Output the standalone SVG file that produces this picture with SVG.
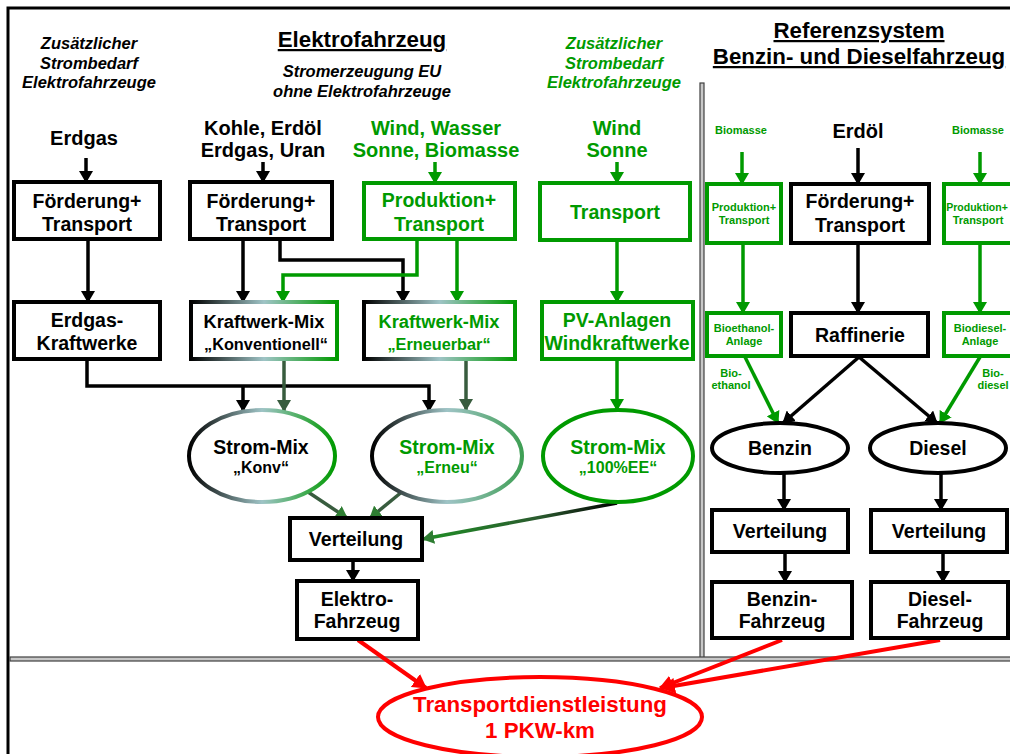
<svg xmlns="http://www.w3.org/2000/svg" width="1010" height="754" viewBox="0 0 1010 754">
<defs>
<style>
text{font-family:"Liberation Sans",Arial,sans-serif;font-weight:bold;text-anchor:middle}
.t19{font-size:19.5px}
.t20{font-size:20px}
.t16{font-size:16px}
.t11{font-size:11px}
.it{font-size:16.5px;font-style:italic}
.ttl{font-size:22.3px;text-decoration:underline}
.g{fill:#009a00}
.k{fill:#000}
.r{fill:#ff0000}
.bx{fill:#fff;stroke:#000;stroke-width:4}
.gbx{fill:#fff;stroke:#009a00;stroke-width:4}
.ck{fill:none;stroke:#000;stroke-width:3.5}
.cg{fill:none;stroke:#009a00;stroke-width:3.5}
.cd{fill:none;stroke:#385c3e;stroke-width:3.5}
.cr{fill:none;stroke:#ff0000;stroke-width:4}
</style>
<marker id="ak" markerUnits="userSpaceOnUse" markerWidth="14" markerHeight="14" refX="11" refY="7" orient="auto"><path d="M0,0 L12,7 L0,14 z" fill="#000"/></marker>
<marker id="ag" markerUnits="userSpaceOnUse" markerWidth="14" markerHeight="14" refX="11" refY="7" orient="auto"><path d="M0,0 L12,7 L0,14 z" fill="#009a00"/></marker>
<marker id="ad" markerUnits="userSpaceOnUse" markerWidth="14" markerHeight="14" refX="11" refY="7" orient="auto"><path d="M0,0 L12,7 L0,14 z" fill="#385c3e"/></marker>
<marker id="adg" markerUnits="userSpaceOnUse" markerWidth="14" markerHeight="14" refX="11" refY="7" orient="auto"><path d="M0,0 L12,7 L0,14 z" fill="#2e7d32"/></marker>
<marker id="ar" markerUnits="userSpaceOnUse" markerWidth="16" markerHeight="16" refX="13" refY="8" orient="auto"><path d="M0,0 L14,8 L0,16 z" fill="#ff0000"/></marker>
<linearGradient id="gmix" x1="0" y1="0" x2="1" y2="0">
<stop offset="0" stop-color="#000"/><stop offset="0.5" stop-color="#9fc4c6"/><stop offset="1" stop-color="#009a00"/>
</linearGradient>
<linearGradient id="gmix2" x1="0" y1="0" x2="1" y2="0">
<stop offset="0" stop-color="#000"/><stop offset="0.5" stop-color="#9fc4c6"/><stop offset="1" stop-color="#3f9f55"/>
</linearGradient>
<linearGradient id="gee" x1="0" y1="0" x2="1" y2="0">
<stop offset="0" stop-color="#1f8f25"/><stop offset="0.6" stop-color="#2a5a2e"/><stop offset="1" stop-color="#000"/>
</linearGradient>
</defs>

<!-- frame and separators -->
<g id="frame">
<rect x="8" y="8" width="1010" height="760" fill="#fff" stroke="#000" stroke-width="3"/>
<rect x="700" y="83" width="4" height="577" fill="#c8c8c8" stroke="#404040" stroke-width="1.2"/>
<rect x="10" y="657" width="1010" height="4" fill="#c8c8c8" stroke="#404040" stroke-width="1.2"/>
</g>

<!-- headings -->
<g id="headings">
<text class="it k" x="89" y="49">Zusätzlicher</text>
<text class="it k" x="89" y="69">Strombedarf</text>
<text class="it k" x="89" y="88">Elektrofahrzeuge</text>
<text class="ttl k" x="362" y="47">Elektrofahrzeug</text>
<text class="it k" x="362" y="77">Stromerzeugung EU</text>
<text class="it k" x="362" y="97">ohne Elektrofahrzeuge</text>
<text class="it g" x="614" y="49">Zusätzlicher</text>
<text class="it g" x="614" y="69">Strombedarf</text>
<text class="it g" x="614" y="88">Elektrofahrzeuge</text>
<text class="ttl k" x="859" y="38">Referenzsystem</text>
<text class="ttl k" x="859" y="64">Benzin- und Dieselfahrzeug</text>
</g>

<!-- source labels -->
<g id="sources">
<text class="t20 k" x="84" y="145">Erdgas</text>
<text class="t20 k" x="263" y="135">Kohle, Erdöl</text>
<text class="t20 k" x="263" y="157">Erdgas, Uran</text>
<text class="t20 g" x="436" y="135">Wind, Wasser</text>
<text class="t20 g" x="436" y="157">Sonne, Biomasse</text>
<text class="t20 g" x="617" y="135">Wind</text>
<text class="t20 g" x="617" y="157">Sonne</text>
<text class="t11 g" x="741" y="134">Biomasse</text>
<text class="t20 k" x="858" y="138">Erdöl</text>
<text class="t11 g" x="978" y="134">Biomasse</text>
<text class="t11 g" x="731" y="377">Bio-</text>
<text class="t11 g" x="731" y="389">ethanol</text>
<text class="t11 g" x="993" y="377">Bio-</text>
<text class="t11 g" x="993" y="389">diesel</text>
</g>

<!-- connectors -->
<g id="connectors">
<line class="ck" x1="86" y1="158" x2="86" y2="182" marker-end="url(#ak)"/>
<line class="ck" x1="263" y1="162" x2="263" y2="182" marker-end="url(#ak)"/>
<line class="cg" x1="435" y1="162" x2="435" y2="183" marker-end="url(#ag)"/>
<line class="cg" x1="617" y1="162" x2="617" y2="183" marker-end="url(#ag)"/>
<line class="ck" x1="88" y1="239" x2="88" y2="302" marker-end="url(#ak)"/>
<line class="ck" x1="243" y1="239" x2="243" y2="302" marker-end="url(#ak)"/>
<polyline class="ck" points="280,239 280,260 403,260 403,302" marker-end="url(#ak)"/>
<polyline class="cg" points="417,239 417,275 283,275 283,302" marker-end="url(#ag)"/>
<line class="cg" x1="457" y1="239" x2="457" y2="302" marker-end="url(#ag)"/>
<line class="cg" x1="617" y1="240" x2="617" y2="302" marker-end="url(#ag)"/>
<polyline class="ck" points="87,359 87,386 429,386 429,411" marker-end="url(#ak)"/>
<line class="ck" x1="243" y1="386" x2="243" y2="411" marker-end="url(#ak)"/>
<line class="cd" x1="284" y1="359" x2="284" y2="411" marker-end="url(#ad)"/>
<line class="cd" x1="466" y1="359" x2="466" y2="410" marker-end="url(#ad)"/>
<line class="cg" x1="617" y1="359" x2="617" y2="410" marker-end="url(#ag)"/>
<line class="cd" x1="305" y1="490" x2="347" y2="518" marker-end="url(#adg)"/>
<line class="cd" x1="403" y1="491" x2="370" y2="518" marker-end="url(#adg)"/>
<line x1="617" y1="503" x2="423" y2="539" fill="none" stroke="url(#gee)" stroke-width="3.5" marker-end="url(#adg)"/>
<line class="ck" x1="353" y1="560" x2="353" y2="581" marker-end="url(#ak)"/>
<line class="cr" x1="358" y1="640" x2="426" y2="688" marker-end="url(#ar)"/>
<line class="cr" x1="782" y1="640" x2="660" y2="688" marker-end="url(#ar)"/>
<line class="cr" x1="940" y1="640" x2="662" y2="688" marker-end="url(#ar)"/>
<line class="cg" x1="742" y1="152" x2="742" y2="184" marker-end="url(#ag)"/>
<line class="ck" x1="858" y1="148" x2="858" y2="184" marker-end="url(#ak)"/>
<line class="cg" x1="980" y1="152" x2="980" y2="184" marker-end="url(#ag)"/>
<line class="cg" x1="743" y1="243" x2="743" y2="313" marker-end="url(#ag)"/>
<line class="ck" x1="858" y1="243" x2="858" y2="313" marker-end="url(#ak)"/>
<line class="cg" x1="980" y1="243" x2="980" y2="313" marker-end="url(#ag)"/>
<line class="cg" x1="745" y1="357" x2="778" y2="423" marker-end="url(#ag)"/>
<line class="ck" x1="859" y1="357" x2="783" y2="423" marker-end="url(#ak)"/>
<line class="ck" x1="859" y1="357" x2="937" y2="423" marker-end="url(#ak)"/>
<line class="cg" x1="980" y1="357" x2="940" y2="423" marker-end="url(#ag)"/>
<line class="ck" x1="784" y1="473" x2="784" y2="510" marker-end="url(#ak)"/>
<line class="ck" x1="941" y1="473" x2="941" y2="510" marker-end="url(#ak)"/>
<line class="ck" x1="785" y1="552" x2="785" y2="582" marker-end="url(#ak)"/>
<line class="ck" x1="943" y1="552" x2="943" y2="582" marker-end="url(#ak)"/>
</g>

<!-- nodes -->
<g id="n-foerd1"><rect class="bx" x="14" y="182" width="146" height="57"/><text class="t19 k" x="87" y="208">Förderung+</text><text class="t19 k" x="87" y="231">Transport</text></g>
<g id="n-foerd2"><rect class="bx" x="190" y="182" width="142" height="57"/><text class="t19 k" x="261" y="208">Förderung+</text><text class="t19 k" x="261" y="231">Transport</text></g>
<g id="n-prod"><rect class="gbx" x="364" y="183" width="151" height="56"/><text class="t19 g" x="439" y="207">Produktion+</text><text class="t19 g" x="439" y="231">Transport</text></g>
<g id="n-transport"><rect class="gbx" x="540" y="183" width="150" height="57"/><text class="t19 g" x="615" y="219">Transport</text></g>
<g id="n-erdgaskw"><rect class="bx" x="14" y="302" width="146" height="57"/><text class="t19 k" x="87" y="327">Erdgas-</text><text class="t19 k" x="87" y="350">Kraftwerke</text></g>
<g id="n-kwkonv"><rect x="191" y="302" width="146" height="57" fill="#fff" stroke="url(#gmix)" stroke-width="4"/><text class="k" style="font-size:18.3px" x="264" y="328">Kraftwerk-Mix</text><text class="k" style="font-size:16.3px" x="266" y="350">„Konventionell“</text></g>
<g id="n-kwern"><rect x="364" y="302" width="151" height="57" fill="#fff" stroke="url(#gmix)" stroke-width="4"/><text class="g" style="font-size:18.3px" x="439" y="328">Kraftwerk-Mix</text><text class="g" style="font-size:16.3px" x="439" y="350">„Erneuerbar“</text></g>
<g id="n-pv"><rect class="gbx" x="542" y="302" width="151" height="57"/><text class="t19 g" x="617" y="327">PV-Anlagen</text><text class="t19 g" x="617" y="350">Windkraftwerke</text></g>
<g id="n-smkonv"><ellipse cx="262" cy="456" rx="73" ry="46" fill="#fff" stroke="url(#gmix)" stroke-width="4"/><text class="t19 k" x="261" y="454">Strom-Mix</text><text class="t16 k" x="261" y="473">„Konv“</text></g>
<g id="n-smern"><ellipse cx="447" cy="456" rx="75" ry="46" fill="#fff" stroke="url(#gmix2)" stroke-width="4"/><text class="t19 g" x="447" y="454">Strom-Mix</text><text class="t16 g" x="447" y="473">„Erneu“</text></g>
<g id="n-smee"><ellipse cx="618" cy="456" rx="75" ry="46" fill="#fff" stroke="#009a00" stroke-width="4"/><text class="t19 g" x="618" y="454">Strom-Mix</text><text class="t16 g" x="618" y="473">„100%EE“</text></g>
<g id="n-vert"><rect class="bx" x="290" y="518" width="132" height="42"/><text class="t19 k" x="356" y="546">Verteilung</text></g>
<g id="n-efz"><rect class="bx" x="297" y="581" width="121" height="58"/><text class="t19 k" x="357" y="606">Elektro-</text><text class="t19 k" x="357" y="628">Fahrzeug</text></g>
<g id="n-tdl"><ellipse cx="540" cy="717" rx="162" ry="40" fill="#fff" stroke="#ff0000" stroke-width="4"/><text class="r" style="font-size:22.3px" x="540" y="712">Transportdienstleistung</text><text class="r" style="font-size:22.3px" x="540" y="738">1 PKW-km</text></g>
<g id="n-prod-l"><rect class="gbx" x="707" y="184" width="74" height="59"/><text class="t11 g" x="744" y="211">Produktion+</text><text class="t11 g" x="744" y="224">Transport</text></g>
<g id="n-foerd3"><rect class="bx" x="791" y="184" width="138" height="59"/><text class="t19 k" x="860" y="208">Förderung+</text><text class="t19 k" x="860" y="232">Transport</text></g>
<g id="n-prod-r"><rect class="gbx" x="944" y="184" width="70" height="59"/><text class="g" style="font-size:10.5px" x="977" y="211">Produktion+</text><text class="t11 g" x="978" y="224">Transport</text></g>
<g id="n-bioeth"><rect class="gbx" x="707" y="313" width="74" height="43"/><text class="t11 g" x="744" y="332">Bioethanol-</text><text class="t11 g" x="744" y="345">Anlage</text></g>
<g id="n-raff"><rect class="bx" x="791" y="313" width="137" height="43"/><text class="t19 k" x="860" y="342">Raffinerie</text></g>
<g id="n-biodies"><rect class="gbx" x="944" y="313" width="70" height="43"/><text class="t11 g" x="980" y="332">Biodiesel-</text><text class="t11 g" x="980" y="345">Anlage</text></g>
<g id="n-benzin"><ellipse cx="780" cy="448" rx="68" ry="25" fill="#fff" stroke="#000" stroke-width="4"/><text class="t19 k" x="780" y="455">Benzin</text></g>
<g id="n-diesel"><ellipse cx="938" cy="448" rx="68" ry="25" fill="#fff" stroke="#000" stroke-width="4"/><text class="t19 k" x="938" y="455">Diesel</text></g>
<g id="n-vertb"><rect class="bx" x="712" y="510" width="136" height="42"/><text class="t19 k" x="780" y="538">Verteilung</text></g>
<g id="n-vertd"><rect class="bx" x="871" y="510" width="136" height="42"/><text class="t19 k" x="939" y="538">Verteilung</text></g>
<g id="n-bfz"><rect class="bx" x="712" y="582" width="140" height="56"/><text class="t19 k" x="782" y="606">Benzin-</text><text class="t19 k" x="782" y="628">Fahrzeug</text></g>
<g id="n-dfz"><rect class="bx" x="871" y="582" width="137" height="56"/><text class="t19 k" x="940" y="606">Diesel-</text><text class="t19 k" x="940" y="628">Fahrzeug</text></g>
</svg>
